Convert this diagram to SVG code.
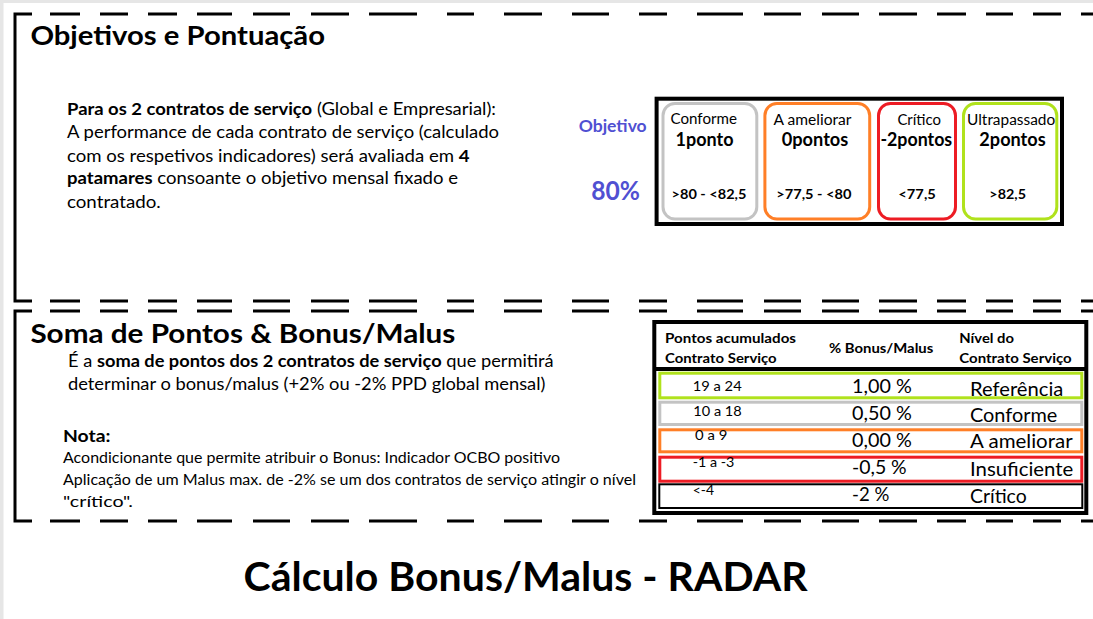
<svg xmlns="http://www.w3.org/2000/svg" xmlns:xlink="http://www.w3.org/1999/xlink" width="1093" height="619" viewBox="0 0 1093 619">
<style>
.f{font-family:Lato,"Open Sans","Liberation Sans",sans-serif;fill:#000}
.b{font-weight:bold}
.ln{fill:none;stroke:#000;stroke-width:3}
.blue{fill:#5050d2}
.box{fill:#fff;stroke-width:3}
.gray{stroke:#c3c3c3}
.orange{stroke:#ff7f27}
.red{stroke:#ed1c24}
.green{stroke:#b0e21c}
</style>
<defs>
<path id="dash" class="ln" d="M50 0H80M100 0H128M148 0H177M197 0H232M253 0H290M311 0H349M369 0H417M447 0H474M504 0H542M572 0H609M639 0H667M697 0H743M764 0H801M822 0H859M879 0H917M937 0H966M986 0H1013M1033 0H1061M1081 0H1093"/>
</defs>
<rect x="0" y="0" width="1093" height="619" fill="#fff"/>
<rect x="0" y="0" width="1093" height="3" fill="#e6e6e6"/>
<rect x="0" y="0" width="3.5" height="619" fill="#e6e6e6"/>

<g id="section1">
<path class="ln" d="M32 14H15V301H32"/>
<use xlink:href="#dash" y="14"/>
<use xlink:href="#dash" y="301"/>
<text class="f b" x="30.4" y="45" font-size="27" textLength="294.6" lengthAdjust="spacingAndGlyphs">Objetivos e Pontuação</text>
<text class="f" x="67" y="115" font-size="17" textLength="429" lengthAdjust="spacingAndGlyphs"><tspan class="b">Para os 2 contratos de serviço</tspan> (Global e Empresarial):</text>
<text class="f" x="67" y="138" font-size="17" textLength="432" lengthAdjust="spacingAndGlyphs">A performance de cada contrato de serviço (calculado</text>
<text class="f" x="67" y="161.7" font-size="17" textLength="402.6" lengthAdjust="spacingAndGlyphs">com os respetivos indicadores) será avaliada em <tspan class="b">4</tspan></text>
<text class="f" x="67" y="184.3" font-size="17" textLength="391" lengthAdjust="spacingAndGlyphs"><tspan class="b">patamares</tspan> consoante o objetivo mensal fixado e</text>
<text class="f" x="67" y="207.7" font-size="17" textLength="93.7" lengthAdjust="spacingAndGlyphs">contratado.</text>
</g>

<g id="objetivo">
<text class="f b blue" x="578.7" y="131.7" font-size="17" textLength="68" lengthAdjust="spacingAndGlyphs">Objetivo</text>
<text class="f b blue" x="591.3" y="200.3" font-size="26" textLength="48.7" lengthAdjust="spacingAndGlyphs">80%</text>
</g>

<g id="patamares">
<rect x="656.6" y="98.7" width="405.4" height="125.3" fill="#fff" stroke="#000" stroke-width="4"/>
<g id="conforme">
<rect class="box gray" x="663" y="103.5" width="93.8" height="115.5" rx="12"/>
<text class="f" x="703.7" y="124.4" font-size="15.5" text-anchor="middle" textLength="66.4" lengthAdjust="spacingAndGlyphs">Conforme</text>
<text class="f b" x="704.5" y="146" font-size="19.5" text-anchor="middle" textLength="58" lengthAdjust="spacingAndGlyphs">1ponto</text>
<text class="f b" x="709" y="199" font-size="14" text-anchor="middle" textLength="74.8" lengthAdjust="spacingAndGlyphs">&gt;80 - &lt;82,5</text>
</g>
<g id="ameliorar">
<rect class="box orange" x="764.9" y="103.5" width="104.8" height="115.5" rx="12"/>
<text class="f" x="812.5" y="124.6" font-size="15.5" text-anchor="middle" textLength="77.9" lengthAdjust="spacingAndGlyphs">A ameliorar</text>
<text class="f b" x="815" y="146" font-size="19.5" text-anchor="middle" textLength="66.6" lengthAdjust="spacingAndGlyphs">0pontos</text>
<text class="f b" x="813.9" y="198.7" font-size="14" text-anchor="middle" textLength="75.2" lengthAdjust="spacingAndGlyphs">&gt;77,5 - &lt;80</text>
</g>
<g id="critico">
<rect class="box red" x="878.5" y="103.5" width="77" height="115.5" rx="12"/>
<text class="f" x="919.2" y="124.6" font-size="15.5" text-anchor="middle" textLength="43.6" lengthAdjust="spacingAndGlyphs">Crítico</text>
<text class="f b" x="916.3" y="146.3" font-size="19.5" text-anchor="middle" textLength="71.8" lengthAdjust="spacingAndGlyphs">-2pontos</text>
<text class="f b" x="917.1" y="199" font-size="14" text-anchor="middle" textLength="37.5" lengthAdjust="spacingAndGlyphs">&lt;77,5</text>
</g>
<g id="ultrapassado">
<rect class="box green" x="963.5" y="103.5" width="93.3" height="115.5" rx="12"/>
<text class="f" x="1011.1" y="124.6" font-size="15.5" text-anchor="middle" textLength="88.1" lengthAdjust="spacingAndGlyphs">Ultrapassado</text>
<text class="f b" x="1012.5" y="146.3" font-size="19.5" text-anchor="middle" textLength="66.3" lengthAdjust="spacingAndGlyphs">2pontos</text>
<text class="f b" x="1007.7" y="199" font-size="14" text-anchor="middle" textLength="36.7" lengthAdjust="spacingAndGlyphs">&gt;82,5</text>
</g>
</g>

<g id="section2">
<path class="ln" d="M32 311H15V521H32"/>
<use xlink:href="#dash" y="311"/>
<use xlink:href="#dash" y="521"/>
<text class="f b" x="30.4" y="343.3" font-size="27" textLength="425" lengthAdjust="spacingAndGlyphs">Soma de Pontos &amp; Bonus/Malus</text>
<text class="f" x="68" y="366.7" font-size="17" textLength="485.6" lengthAdjust="spacingAndGlyphs">É a <tspan class="b">soma de pontos dos 2 contratos de serviço</tspan> que permitirá</text>
<text class="f" x="68" y="390" font-size="17" textLength="477.4" lengthAdjust="spacingAndGlyphs">determinar o bonus/malus (+2% ou -2% PPD global mensal)</text>
<text class="f b" x="63" y="441.7" font-size="17" textLength="47.5" lengthAdjust="spacingAndGlyphs">Nota:</text>
<text class="f" x="63" y="463.3" font-size="14.5" textLength="497" lengthAdjust="spacingAndGlyphs">Acondicionante que permite atribuir o Bonus: Indicador OCBO positivo</text>
<text class="f" x="63" y="485" font-size="14.5" textLength="573" lengthAdjust="spacingAndGlyphs">Aplicação de um Malus max. de -2% se um dos contratos de serviço atingir o nível</text>
<text class="f" x="63" y="506.7" font-size="14.5" textLength="70" lengthAdjust="spacingAndGlyphs">"crítico".</text>
</g>

<g id="tabela">
<rect x="654.3" y="322" width="432" height="191" fill="#fff" stroke="#000" stroke-width="4"/>
<line x1="654.3" y1="369" x2="1086.3" y2="369" stroke="#000" stroke-width="4"/>
<text class="f b" x="665" y="343.3" font-size="14" textLength="131" lengthAdjust="spacingAndGlyphs">Pontos acumulados</text>
<text class="f b" x="665" y="363.3" font-size="14" textLength="111.7" lengthAdjust="spacingAndGlyphs">Contrato Serviço</text>
<text class="f b" x="829" y="353.3" font-size="14" textLength="104.3" lengthAdjust="spacingAndGlyphs">% Bonus/Malus</text>
<text class="f b" x="959.3" y="343.3" font-size="14" textLength="54.7" lengthAdjust="spacingAndGlyphs">Nível do</text>
<text class="f b" x="959.3" y="363.3" font-size="14" textLength="112.4" lengthAdjust="spacingAndGlyphs">Contrato Serviço</text>
<g id="row-referencia">
<rect class="box green" x="659.8" y="373.2" width="422" height="24.6"/>
<text class="f" x="692.7" y="391" font-size="13.5" textLength="49" lengthAdjust="spacingAndGlyphs">19 a 24</text>
<text class="f" x="852" y="393.3" font-size="19" textLength="59.7" lengthAdjust="spacingAndGlyphs">1,00 %</text>
<text class="f" x="970" y="395.7" font-size="19" textLength="93.3" lengthAdjust="spacingAndGlyphs">Referência</text>
</g>
<g id="row-conforme">
<rect class="box gray" x="659.8" y="402.2" width="422" height="22.3"/>
<text class="f" x="693.3" y="416" font-size="13.5" textLength="48.4" lengthAdjust="spacingAndGlyphs">10 a 18</text>
<text class="f" x="852" y="420" font-size="19" textLength="59.7" lengthAdjust="spacingAndGlyphs">0,50 %</text>
<text class="f" x="970" y="422.3" font-size="19" textLength="87.3" lengthAdjust="spacingAndGlyphs">Conforme</text>
</g>
<g id="row-ameliorar">
<rect class="box orange" x="659.8" y="429.8" width="422" height="22"/>
<text class="f" x="695" y="440" font-size="13.5" textLength="32.3" lengthAdjust="spacingAndGlyphs">0 a 9</text>
<text class="f" x="852" y="447.3" font-size="19" textLength="59.7" lengthAdjust="spacingAndGlyphs">0,00 %</text>
<text class="f" x="970" y="448.3" font-size="19" textLength="102.7" lengthAdjust="spacingAndGlyphs">A ameliorar</text>
</g>
<g id="row-insuficiente">
<rect class="box red" x="659.8" y="457.2" width="422" height="24"/>
<text class="f" x="692.7" y="466.7" font-size="13.5" textLength="41.6" lengthAdjust="spacingAndGlyphs">-1 a -3</text>
<text class="f" x="852" y="474.3" font-size="19" textLength="54.7" lengthAdjust="spacingAndGlyphs">-0,5 %</text>
<text class="f" x="970" y="476" font-size="19" textLength="103.3" lengthAdjust="spacingAndGlyphs">Insuficiente</text>
</g>
<g id="row-critico">
<rect x="659.3" y="484.3" width="423" height="23.7" fill="#fff" stroke="#000" stroke-width="2"/>
<text class="f" x="692.7" y="495" font-size="13.5" textLength="21.3" lengthAdjust="spacingAndGlyphs">&lt;-4</text>
<text class="f" x="852" y="500.7" font-size="19" textLength="37.3" lengthAdjust="spacingAndGlyphs">-2 %</text>
<text class="f" x="970" y="502.7" font-size="19" textLength="56.7" lengthAdjust="spacingAndGlyphs">Crítico</text>
</g>
</g>

<g id="connectors"/>

<g id="titulo">
<text class="f b" x="243.6" y="591" font-size="40" textLength="564" lengthAdjust="spacingAndGlyphs">Cálculo Bonus/Malus - RADAR</text>
</g>
</svg>
